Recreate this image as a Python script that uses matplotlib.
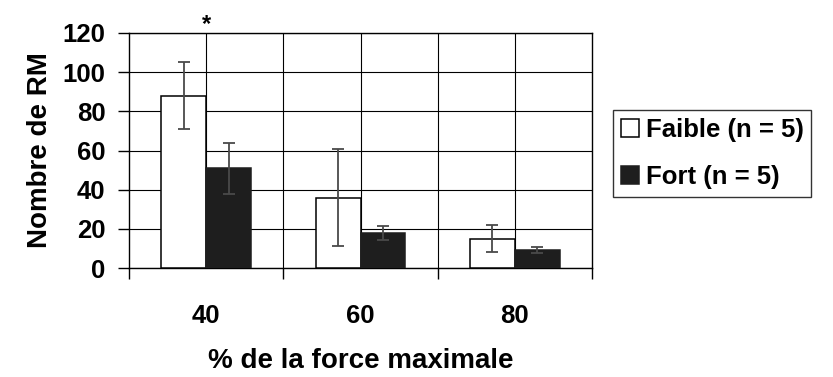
import numpy as np
import matplotlib
matplotlib.use("Agg")
import matplotlib.pyplot as plt

# données
categories = ["40", "60", "80"]
faible = [88, 36, 15]
faible_err = [17, 25, 7]
fort = [51, 18, 9]
fort_err = [13, 3.5, 1.5]
labels = ["Faible (n = 5)", "Fort (n = 5)"]

plt.rcParams['font.family'] = ['Liberation Sans', 'DejaVu Sans']

fig = plt.figure(figsize=(8.33, 3.77), dpi=100)
ax = fig.add_axes([129 / 833, 1 - 268 / 377, (592 - 129) / 833, (268 - 33) / 377])

x = np.arange(len(categories))
w = 0.29
ekw = dict(ecolor="#4a4a4a", elinewidth=1.3, capsize=4.5, capthick=1.3)
ax.bar(x - w / 2, faible, w, yerr=faible_err, color="white", edgecolor="black",
       linewidth=1.1, error_kw=ekw, label=labels[0], zorder=3)
ax.bar(x + w / 2, fort, w, yerr=fort_err, color="#1e1e1e", edgecolor="#1e1e1e",
       linewidth=1.1, error_kw=ekw, label=labels[1], zorder=3)

ax.set_xlim(-0.5, 2.5)
ax.set_ylim(0, 120)
ax.set_yticks(np.arange(0, 121, 20))
ax.set_xticks(x)
ax.set_xticklabels(categories)
ax.set_xticks(np.arange(-0.5, 2.6, 1), minor=True)

# grille horizontale et verticale (centres + limites)
ax.grid(axis="y", color="black", linewidth=0.8, zorder=0)
for xv in list(x) + [0.5, 1.5]:
    ax.axvline(xv, color="black", linewidth=0.8, zorder=0)

for s in ax.spines.values():
    s.set_linewidth(1.0)
ax.tick_params(axis="y", direction="out", length=8, width=1.0, labelsize=18.5, pad=9)
ax.tick_params(axis="x", which="major", length=0, labelsize=18.5, pad=26)
ax.tick_params(axis="x", which="minor", direction="out", length=8, width=1.0)
for t in ax.get_xticklabels() + ax.get_yticklabels():
    t.set_fontweight("bold")

ax.set_ylabel("Nombre de RM", fontsize=20, fontweight="bold", labelpad=7)
ax.set_xlabel("% de la force maximale", fontsize=20, fontweight="bold", labelpad=14.5)

ax.text(0, 118.5, "*", ha="center", va="bottom", fontsize=17, fontweight="bold", clip_on=False)

leg = fig.legend(loc="upper left", bbox_to_anchor=(613 / 833, 1 - 110 / 377),
                 frameon=True, fancybox=False, edgecolor="black",
                 prop=dict(size=18.5, weight="bold"), handlelength=0.7, handleheight=0.7,
                 handletextpad=0.27, borderpad=0.3, labelspacing=0.9, borderaxespad=0)
leg.get_frame().set_linewidth(1.0)

fig.savefig("out.png", dpi=100)
